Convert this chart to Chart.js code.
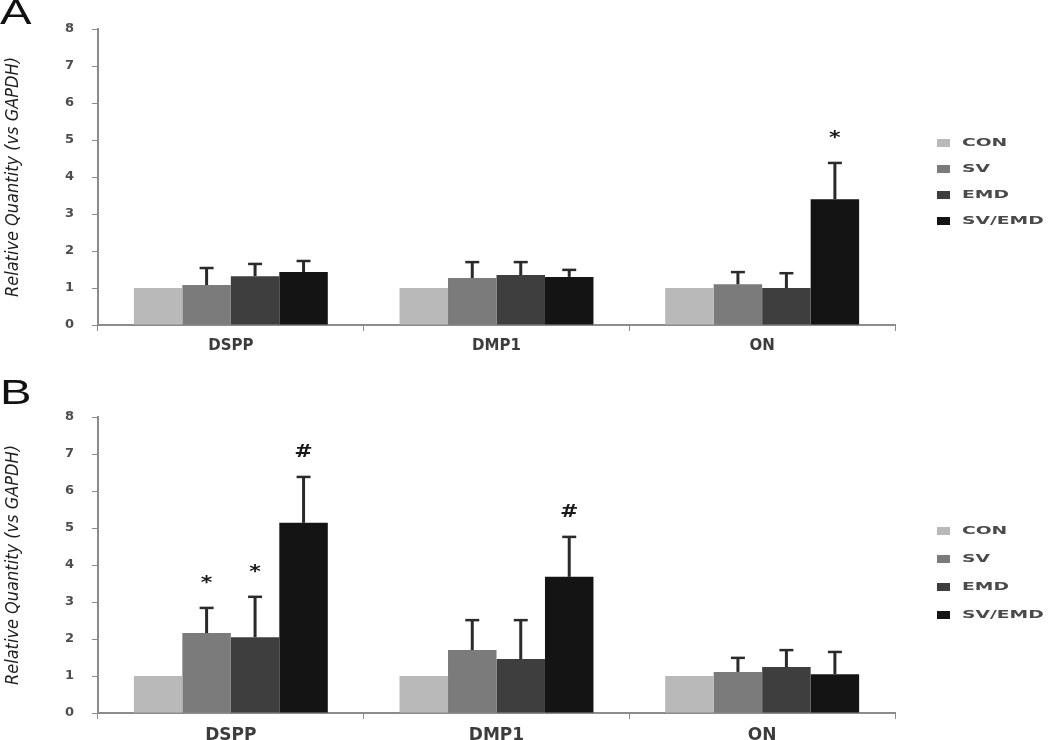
<!DOCTYPE html>
<html lang="en">
<head>
  <meta charset="UTF-8" />
  <title>Relative Quantity vs GAPDH - Grouped Bar Charts</title>
  <style>
    body {
      margin: 0;
      background: #fff;
    }

    .wrap {
      position: relative;
      width: 1050px;
      height: 740px;
      overflow: hidden;
    }

    canvas {
      position: absolute;
      left: 0;
    }

    #chartA { top: 0; }
    #chartB { top: 370px; }

    .letter {
      position: absolute;
      left: 0;
      font-family: "Liberation Sans", Arial, sans-serif;
      font-size: 35px;
      line-height: 35px;
      color: #111;
      transform: scaleX(1.35);
      transform-origin: left top;
    }
  </style>
  <script src="https://cdn.jsdelivr.net/npm/chart.js"></script>
</head>
<body>
  <div class="wrap">
    <canvas id="chartA" width="1050" height="370"></canvas>
    <canvas id="chartB" width="1050" height="370"></canvas>
    <div class="letter" style="top:-6px">A</div>
    <div class="letter" style="top:374px">B</div>
  </div>

  <script>
    const genes = ["DSPP", "DMP1", "ON"];
    const groups = ["CON", "SV", "EMD", "SV/EMD"];

    // panel A - means and upper error
    const meanA_CON = [1.0, 1.0, 1.0];
    const meanA_SV = [1.08, 1.27, 1.10];
    const meanA_EMD = [1.32, 1.35, 1.00];
    const meanA_SVEMD = [1.43, 1.30, 3.40];
    const errA_CON = [0, 0, 0];
    const errA_SV = [0.46, 0.43, 0.33];
    const errA_EMD = [0.33, 0.35, 0.40];
    const errA_SVEMD = [0.30, 0.19, 0.98];
    const marksA_SVEMD = ["", "", "*"];

    // panel B
    const meanB_CON = [1.0, 1.0, 1.0];
    const meanB_SV = [2.16, 1.70, 1.11];
    const meanB_EMD = [2.05, 1.46, 1.24];
    const meanB_SVEMD = [5.14, 3.68, 1.05];
    const errB_CON = [0, 0, 0];
    const errB_SV = [0.68, 0.81, 0.38];
    const errB_EMD = [1.09, 1.05, 0.46];
    const errB_SVEMD = [1.24, 1.08, 0.60];
    const marksB_SV = ["*", "", ""];
    const marksB_EMD = ["*", "", ""];
    const marksB_SVEMD = ["#", "#", ""];

    const yMin = 0;
    const yMax = 8;
    const yStep = 1;

    const barColors = ["#b9b9b9", "#7b7b7b", "#3e3e3e", "#141414"];
    const axisColor = "#8c8c8c";

    // upward error bars + significance marks
    const errorBars = {
      id: "errorBars",
      afterDatasetsDraw(chart) {
        const ctx = chart.ctx;
        const y = chart.scales.y;
        chart.data.datasets.forEach((ds, i) => {
          const meta = chart.getDatasetMeta(i);
          meta.data.forEach((bar, j) => {
            const err = ds.errors[j];
            const top = y.getPixelForValue(ds.data[j] + err);
            ctx.save();
            if (err > 0) {
              ctx.strokeStyle = "#2a2a2a";
              ctx.lineWidth = 3;
              ctx.beginPath();
              ctx.moveTo(bar.x, bar.y);
              ctx.lineTo(bar.x, top);
              ctx.stroke();
              ctx.lineWidth = 2.5;
              ctx.beginPath();
              ctx.moveTo(bar.x - 7, top);
              ctx.lineTo(bar.x + 7, top);
              ctx.stroke();
            }
            const m = ds.marks[j];
            if (m) {
              ctx.translate(bar.x, top - 24);
              ctx.scale(1.3, 1);
              ctx.fillStyle = "#1a1a1a";
              ctx.font = "bold 17px 'DejaVu Sans'";
              ctx.textAlign = "center";
              ctx.textBaseline = "middle";
              ctx.fillText(m, 0, 0);
            }
            ctx.restore();
          });
        });
      }
    };

    // legend on the right, drawn wide like the figure
    const sideLegend = {
      id: "sideLegend",
      afterDraw(chart, args, opts) {
        const ctx = chart.ctx;
        const n = chart.data.datasets.length;
        const y0 = opts.mid - (n - 1) * opts.gap / 2;
        chart.data.datasets.forEach((ds, i) => {
          const cy = y0 + i * opts.gap;
          ctx.save();
          ctx.fillStyle = ds.backgroundColor;
          ctx.fillRect(937, cy - 4, 13, 8);
          ctx.translate(962, cy);
          ctx.scale(1.7, 1);
          ctx.font = "bold 11px 'DejaVu Sans'";
          ctx.fillStyle = "#4a4a4a";
          ctx.textBaseline = "middle";
          ctx.fillText(ds.label, 0, 0);
          ctx.restore();
        });
      }
    };

    function makeChart(id, means, errs, marks, cfg) {
      const datasets = groups.map((g, i) => ({
        label: g,
        data: means[i],
        errors: errs[i],
        marks: marks[i],
        backgroundColor: barColors[i],
        borderWidth: 0,
        barPercentage: 1.0,
        categoryPercentage: 0.73
      }));

      return new Chart(document.getElementById(id).getContext("2d"), {
        type: "bar",
        data: { labels: genes, datasets: datasets },
        options: {
          responsive: false,
          animation: false,
          layout: {
            padding: { left: 0, right: 155, top: cfg.top, bottom: 0 }
          },
          plugins: {
            legend: { display: false },
            tooltip: { enabled: false },
            sideLegend: { mid: cfg.legendMid, gap: cfg.legendGap }
          },
          scales: {
            x: {
              afterFit: (scale) => { scale.height = cfg.axisHeight; },
              border: { color: axisColor, width: 2 },
              grid: {
                drawOnChartArea: false,
                tickLength: 6,
                color: axisColor
              },
              ticks: {
                color: "#3c3c3c",
                padding: 6,
                font: { family: "DejaVu Sans", size: cfg.labelSize, weight: "bold" }
              }
            },
            y: {
              min: yMin,
              max: yMax,
              afterFit: (scale) => { scale.width = 98; },
              border: { color: axisColor, width: 2 },
              grid: {
                drawOnChartArea: false,
                tickLength: 6,
                color: axisColor
              },
              ticks: {
                stepSize: yStep,
                color: "#4d4d4d",
                padding: 18,
                font: { family: "DejaVu Sans", size: 13, weight: "bold" }
              },
              title: {
                display: true,
                text: "Relative Quantity (vs GAPDH)",
                color: "#1e1e1e",
                padding: { top: 3, bottom: 0 },
                font: {
                  family: "'Liberation Sans Narrow', 'DejaVu Sans Condensed', sans-serif",
                  size: 18,
                  style: "italic"
                }
              }
            }
          }
        },
        plugins: [errorBars, sideLegend]
      });
    }

    makeChart("chartA",
      [meanA_CON, meanA_SV, meanA_EMD, meanA_SVEMD],
      [errA_CON, errA_SV, errA_EMD, errA_SVEMD],
      [["", "", ""], ["", "", ""], ["", "", ""], marksA_SVEMD],
      { top: 29, axisHeight: 45, labelSize: 15, legendMid: 182, legendGap: 26 });

    makeChart("chartB",
      [meanB_CON, meanB_SV, meanB_EMD, meanB_SVEMD],
      [errB_CON, errB_SV, errB_EMD, errB_SVEMD],
      [["", "", ""], marksB_SV, marksB_EMD, marksB_SVEMD],
      { top: 47, axisHeight: 27, labelSize: 17, legendMid: 203, legendGap: 28 });
  </script>
</body>
</html>
